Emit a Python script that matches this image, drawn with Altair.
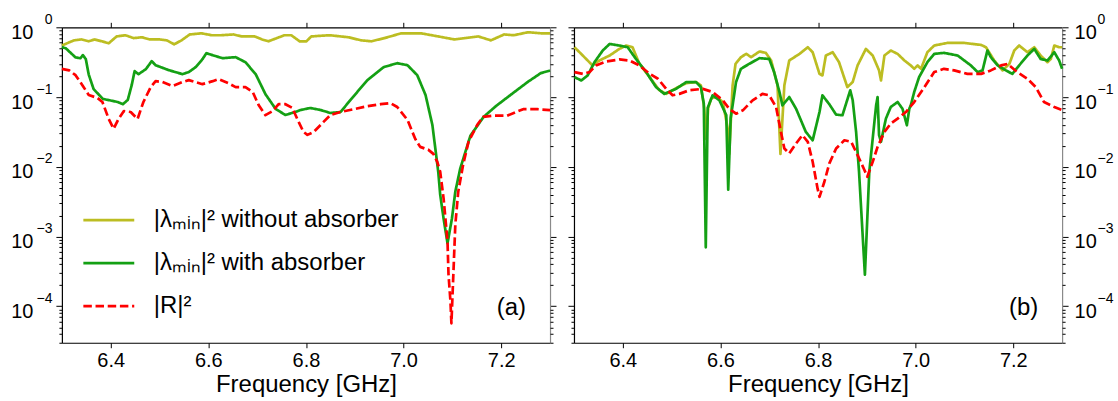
import altair as alt
import pandas as pd

# ---- series names, colours and dash styles ----
SERIES = ["|λₘᵢₙ|² without absorber", "|λₘᵢₙ|² with absorber", "|R|²"]
COLORS = ["#bcbd22", "#14a014", "#ff0000"]
DASHES = [[1, 0], [1, 0], [8.5, 3.7]]

X_TICKS = [6.4, 6.6, 6.8, 7.0, 7.2]
Y_MIN, Y_MAX = 3e-5, 1.0

# ---- panel (a) ----
A_F_YEL = [6.300, 6.325, 6.340, 6.355, 6.367, 6.382, 6.396, 6.412, 6.430, 6.447, 6.464, 6.480, 6.500, 6.515, 6.530,
           6.545, 6.562, 6.586, 6.607, 6.627, 6.652, 6.668, 6.695, 6.710, 6.723, 6.756, 6.770, 6.787, 6.801, 6.811,
           6.848, 6.887, 6.913, 6.934, 6.961, 6.995, 7.036, 7.071, 7.104, 7.153, 7.179, 7.206, 7.226, 7.255, 7.282, 7.300]
A_V_YEL = [0.55, 0.65, 0.67, 0.63, 0.67, 0.63, 0.59, 0.74, 0.77, 0.70, 0.72, 0.67, 0.67, 0.65, 0.57,
           0.65, 0.79, 0.82, 0.77, 0.77, 0.79, 0.74, 0.74, 0.67, 0.63, 0.77, 0.77, 0.63, 0.63, 0.74,
           0.77, 0.72, 0.65, 0.63, 0.70, 0.82, 0.82, 0.74, 0.67, 0.74, 0.65, 0.79, 0.77, 0.85, 0.82, 0.82]

A_F_GRN = [6.300, 6.308, 6.328, 6.338, 6.343, 6.349, 6.355, 6.365, 6.384, 6.404, 6.414, 6.425, 6.435, 6.443, 6.449,
           6.457, 6.472, 6.484, 6.492, 6.519, 6.547, 6.560, 6.574, 6.588, 6.596, 6.609, 6.629, 6.656, 6.676, 6.697,
           6.717, 6.738, 6.758, 6.778, 6.789, 6.809, 6.830, 6.850, 6.871, 6.891, 6.926, 6.959, 6.987, 7.008, 7.028,
           7.045, 7.059, 7.071, 7.075, 7.082, 7.090, 7.099, 7.106, 7.116, 7.137, 7.164, 7.190, 7.219, 7.254, 7.281, 7.300]
A_V_GRN = [0.52, 0.50, 0.37, 0.36, 0.40, 0.35, 0.21, 0.13, 0.094, 0.088, 0.085, 0.079, 0.091, 0.148, 0.235,
           0.213, 0.251, 0.327, 0.286, 0.243, 0.213, 0.228, 0.268, 0.349, 0.425, 0.398, 0.361, 0.373, 0.316, 0.213,
           0.110, 0.0674, 0.0553, 0.061, 0.0652, 0.0697, 0.0652, 0.0591, 0.061, 0.0906, 0.175, 0.268, 0.306, 0.286, 0.206,
           0.107, 0.0398, 0.0085, 0.0040, 0.0018, 0.0008, 0.0018, 0.0044, 0.0094, 0.028, 0.052, 0.075, 0.107, 0.164, 0.22, 0.24]

A_F_RED = [6.300, 6.315, 6.328, 6.342, 6.355, 6.373, 6.383, 6.396, 6.406, 6.416, 6.427, 6.441, 6.455, 6.467, 6.482,
           6.492, 6.506, 6.527, 6.547, 6.560, 6.588, 6.609, 6.621, 6.641, 6.656, 6.676, 6.691, 6.703, 6.717, 6.732,
           6.744, 6.758, 6.772, 6.785, 6.795, 6.803, 6.816, 6.836, 6.850, 6.871, 6.898, 6.926, 6.953, 6.973, 6.987,
           7.008, 7.024, 7.034, 7.051, 7.061, 7.069, 7.075, 7.082, 7.090, 7.092, 7.096, 7.098, 7.102, 7.106, 7.112,
           7.122, 7.133, 7.151, 7.163, 7.184, 7.212, 7.245, 7.274, 7.300]
A_V_RED = [0.254, 0.241, 0.206, 0.148, 0.107, 0.097, 0.085, 0.0485, 0.035, 0.0485, 0.063, 0.061, 0.0485, 0.085, 0.139,
           0.169, 0.164, 0.144, 0.164, 0.175, 0.153, 0.169, 0.181, 0.158, 0.139, 0.139, 0.118, 0.077, 0.055, 0.063,
           0.079, 0.079, 0.070, 0.044, 0.0316, 0.0287, 0.0316, 0.044, 0.055, 0.061, 0.067, 0.074, 0.079, 0.082, 0.072,
           0.047, 0.025, 0.0193, 0.0175, 0.0153, 0.0118, 0.0085, 0.0035, 0.00085, 0.00029, 0.000118, 0.000057, 0.00029, 0.00148, 0.0044,
           0.0107, 0.0228, 0.040, 0.052, 0.054, 0.054, 0.067, 0.067, 0.065]

# ---- panel (b) ----
B_F_YEL = [6.301, 6.318, 6.338, 6.352, 6.373, 6.393, 6.407, 6.420, 6.434, 6.455, 6.475, 6.489, 6.509, 6.530, 6.550,
           6.560, 6.567, 6.571, 6.575, 6.581, 6.591, 6.605, 6.615, 6.618, 6.625, 6.631, 6.642, 6.653, 6.663, 6.680,
           6.693, 6.704, 6.717, 6.723, 6.731, 6.741, 6.762, 6.779, 6.789, 6.803, 6.809, 6.816, 6.830, 6.843, 6.860,
           6.871, 6.881, 6.898, 6.912, 6.925, 6.929, 6.936, 6.949, 6.963, 6.977, 6.990, 6.997, 7.004, 7.011, 7.024,
           7.038, 7.065, 7.099, 7.134, 7.144, 7.161, 7.178, 7.192, 7.202, 7.212, 7.229, 7.243, 7.256, 7.270, 7.277,
           7.284, 7.294, 7.300]
B_V_YEL = [0.518, 0.394, 0.284, 0.334, 0.394, 0.49, 0.548, 0.518, 0.299, 0.193, 0.125, 0.111, 0.134, 0.158, 0.164,
           0.147, 0.068, 0.025, 0.07, 0.0946, 0.102, 0.0848, 0.0352, 0.0153, 0.147, 0.299, 0.373, 0.416, 0.373, 0.45,
           0.43, 0.334, 0.147, 0.0153, 0.147, 0.334, 0.416, 0.518, 0.439, 0.215, 0.204, 0.394, 0.439, 0.316, 0.139,
           0.164, 0.284, 0.49, 0.394, 0.241, 0.173, 0.394, 0.465, 0.416, 0.334, 0.284, 0.254, 0.284, 0.254, 0.439,
           0.548, 0.597, 0.597, 0.559, 0.518, 0.334, 0.241, 0.299, 0.465, 0.548, 0.439, 0.518, 0.394, 0.316, 0.352,
           0.548, 0.518, 0.518]

B_F_GRN = [6.301, 6.315, 6.328, 6.342, 6.359, 6.373, 6.393, 6.410, 6.427, 6.448, 6.468, 6.485, 6.509, 6.530, 6.550,
           6.560, 6.566, 6.570, 6.574, 6.584, 6.598, 6.612, 6.616, 6.621, 6.625, 6.632, 6.642, 6.659, 6.680, 6.700,
           6.710, 6.721, 6.727, 6.741, 6.755, 6.775, 6.789, 6.803, 6.809, 6.823, 6.837, 6.850, 6.866, 6.871, 6.878,
           6.884, 6.896, 6.905, 6.912, 6.919, 6.922, 6.925, 6.929, 6.939, 6.949, 6.963, 6.973, 6.982, 6.987, 6.990,
           6.997, 7.007, 7.024, 7.038, 7.058, 7.086, 7.113, 7.127, 7.137, 7.147, 7.154, 7.168, 7.185, 7.198, 7.212,
           7.229, 7.243, 7.256, 7.270, 7.284, 7.294, 7.300]
B_V_GRN = [0.193, 0.173, 0.204, 0.316, 0.465, 0.577, 0.548, 0.518, 0.352, 0.228, 0.139, 0.111, 0.131, 0.164, 0.164,
           0.139, 0.08, 0.0007, 0.07, 0.106, 0.0897, 0.055, 0.0047, 0.05, 0.076, 0.164, 0.254, 0.299, 0.361, 0.352,
           0.228, 0.118, 0.076, 0.1, 0.068, 0.0316, 0.024, 0.061, 0.106, 0.079, 0.056, 0.0548, 0.125, 0.09, 0.0316,
           0.0085, 0.000284, 0.0085, 0.0254, 0.076, 0.1, 0.0284, 0.0228, 0.049, 0.072, 0.0848, 0.068, 0.0394, 0.068, 0.076,
           0.118, 0.193, 0.316, 0.416, 0.43, 0.394, 0.284, 0.228, 0.241, 0.465, 0.373, 0.284, 0.241, 0.215, 0.284,
           0.394, 0.49, 0.352, 0.334, 0.439, 0.334, 0.254]

B_F_RED = [6.301, 6.318, 6.332, 6.345, 6.366, 6.393, 6.414, 6.434, 6.455, 6.472, 6.489, 6.502, 6.516, 6.536, 6.564,
           6.584, 6.605, 6.618, 6.632, 6.646, 6.666, 6.686, 6.700, 6.714, 6.724, 6.731, 6.741, 6.755, 6.768, 6.779,
           6.789, 6.799, 6.803, 6.813, 6.823, 6.837, 6.854, 6.868, 6.881, 6.895, 6.901, 6.912, 6.922, 6.936, 6.949,
           6.963, 6.980, 6.997, 7.018, 7.038, 7.058, 7.079, 7.106, 7.134, 7.154, 7.175, 7.188, 7.208, 7.229, 7.246,
           7.263, 7.284, 7.300]
B_V_RED = [0.228, 0.215, 0.228, 0.284, 0.324, 0.346, 0.334, 0.284, 0.215, 0.183, 0.131, 0.106, 0.111, 0.125, 0.131,
           0.118, 0.0897, 0.068, 0.0577, 0.0645, 0.0897, 0.111, 0.106, 0.072, 0.0316, 0.0183, 0.0155, 0.0216, 0.0284, 0.0228,
           0.0118, 0.0049, 0.0037, 0.0061, 0.0111, 0.0183, 0.024, 0.0228, 0.0147, 0.009, 0.0072, 0.0118, 0.0193, 0.0316, 0.0416,
           0.049, 0.061, 0.0848, 0.139, 0.228, 0.254, 0.241, 0.215, 0.215, 0.241, 0.284, 0.299, 0.228, 0.183, 0.139,
           0.0848, 0.072, 0.065]


def series_frame(pairs):
    parts = []
    for name, (f, v) in zip(SERIES, pairs):
        d = pd.DataFrame({"f": f, "v": v})
        d["s"] = name
        parts.append(d)
    return pd.concat(parts, ignore_index=True)


df_a = series_frame([(A_F_YEL, A_V_YEL), (A_F_GRN, A_V_GRN), (A_F_RED, A_V_RED)])
df_b = series_frame([(B_F_YEL, B_V_YEL), (B_F_GRN, B_V_GRN), (B_F_RED, B_V_RED)])

# log-axis tick positions: decades (major) and the integer multiples between them (minor)
Y_MAJOR = [1e-4, 1e-3, 1e-2, 1e-1, 1.0]
Y_MINOR = [m * 10.0 ** e for e in range(-5, 0) for m in range(2, 10) if Y_MIN * 0.999 <= m * 10.0 ** e < 1.0]
EXPONENT = "['0','−1','−2','−3','−4','−5'][-round(log(datum.value)/LN10)]"

xs = alt.Scale(domain=[6.3, 7.3], nice=False, zero=False)
ys = alt.Scale(type="log", domain=[Y_MIN, Y_MAX], nice=False)

LEGEND = alt.Legend(
    title=None, orient="none", legendX=20, legendY=172,
    symbolType="stroke", symbolSize=2600, symbolStrokeWidth=2.8,
    labelFontSize=24, labelFont="Liberation Sans", labelColor="black", labelLimit=600,
    clipHeight=42.5, rowPadding=0, labelOffset=18, padding=0,
)

GRAY = "#8a8a8a"


def panel(df, tag, labels_left):
    lab = "left" if labels_left else "right"
    opp = "right" if labels_left else "left"
    lab_dom = "black" if labels_left else GRAY
    opp_dom = GRAY if labels_left else "black"
    ghost = alt.Chart(df).mark_point(opacity=0)

    # curves, bottom axis and the "10" part of the decade labels
    lines = alt.Chart(df).mark_line(strokeWidth=2.7, strokeJoin="round").encode(
        x=alt.X("f:Q", scale=xs, axis=alt.Axis(
            orient="bottom", values=X_TICKS, format=".1f", title="Frequency [GHz]",
            tickSize=5, labelPadding=3, titlePadding=2, labelFlush=False, grid=False)),
        y=alt.Y("v:Q", scale=ys, axis=alt.Axis(
            orient=lab, values=Y_MAJOR, labelExpr="'10'", tickSize=6,
            labelPadding=23 if labels_left else 6, labelOffset=5, title=None, grid=False,
            labelOverlap=False, labelBound=False, domainColor=lab_dom)),
        color=alt.Color("s:N", scale=alt.Scale(domain=SERIES, range=COLORS), legend=LEGEND),
        strokeDash=alt.StrokeDash("s:N", scale=alt.Scale(domain=SERIES, range=DASHES), legend=LEGEND),
    )

    # top ticks + minor ticks on the labelled side
    top_minor = ghost.encode(
        x=alt.X("f:Q", scale=xs, axis=alt.Axis(
            orient="top", values=X_TICKS, labels=False, title=None, tickSize=5, grid=False)),
        y=alt.Y("v:Q", scale=ys, axis=alt.Axis(
            orient=lab, values=Y_MINOR, labels=False, title=None, tickSize=3, grid=False,
            domain=False)),
    )

    # major ticks on the opposite side
    opp_major = ghost.encode(
        x=alt.X("f:Q", scale=xs, axis=None),
        y=alt.Y("v:Q", scale=ys, axis=alt.Axis(
            orient=opp, values=Y_MAJOR, labels=False, title=None, tickSize=6, grid=False,
            domainColor=opp_dom)),
    )

    # minor ticks on the opposite side
    opp_minor = ghost.encode(
        x=alt.X("f:Q", scale=xs, axis=None),
        y=alt.Y("v:Q", scale=ys, axis=alt.Axis(
            orient=opp, values=Y_MINOR, labels=False, title=None, tickSize=3, grid=False,
            domain=False)),
    )

    # raised exponents of the decade labels
    exps = ghost.encode(
        x=alt.X("f:Q", scale=xs, axis=None),
        y=alt.Y("v:Q", scale=ys, axis=alt.Axis(
            orient=lab, values=Y_MAJOR, labelExpr=EXPONENT, ticks=False, domain=False,
            labelFontSize=14, labelAlign="right" if labels_left else "left",
            labelPadding=10 if labels_left else 35, labelOffset=-8, title=None, grid=False,
            labelOverlap=False, labelBound=False)),
    )

    tag_df = pd.DataFrame({"f": [7.221], "v": [0.93e-4], "t": [tag]})
    tag_mark = alt.Chart(tag_df).mark_text(fontSize=24, font="Liberation Sans", color="black").encode(
        x=alt.X("f:Q", scale=xs, axis=None),
        y=alt.Y("v:Q", scale=ys, axis=None),
        text="t:N",
    )

    return alt.layer(lines, top_minor, opp_major, opp_minor, exps, tag_mark).resolve_axis(
        x="independent", y="independent").properties(width=489, height=316)


chart = alt.hconcat(
    panel(df_a, "(a)", True),
    panel(df_b, "(b)", False),
    spacing=24, bounds="flush",
).properties(
    padding={"left": 10, "top": 12, "right": 5, "bottom": 0},
    background="white",
).configure(
    font="Liberation Sans",
).configure_axis(
    labelFontSize=20, titleFontSize=24, labelColor="black", titleColor="black",
    titleFontWeight="normal", tickColor="black", domainColor="black", domainWidth=1.2, tickWidth=1,
    labelFont="Liberation Sans", titleFont="Liberation Sans",
).configure_view(
    stroke=None,
)

chart.save("out.html", embed_options={"renderer": "svg", "actions": False})
